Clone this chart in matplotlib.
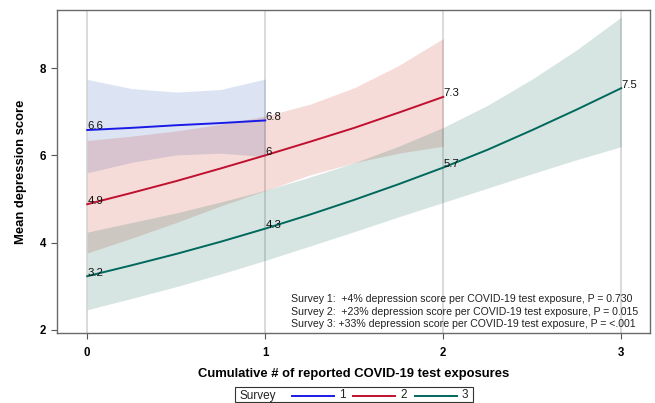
import matplotlib
matplotlib.use("Agg")
import matplotlib.pyplot as plt
from matplotlib.lines import Line2D
from matplotlib.patches import Rectangle

plt.rcParams['font.family'] = ['Liberation Sans', 'DejaVu Sans']

# ---- data ----
surveys = ["1", "2", "3"]

x1 = [0, 0.25, 0.5, 0.75, 1]
mean1 = [6.58, 6.63, 6.69, 6.74, 6.80]
upper1 = [7.74, 7.53, 7.45, 7.51, 7.75]
lower1 = [5.60, 5.84, 6.01, 6.05, 5.97]

x2 = [0, 0.25, 0.5, 0.75, 1, 1.25, 1.5, 1.75, 2]
mean2 = [4.88, 5.14, 5.41, 5.70, 6.00, 6.31, 6.63, 6.98, 7.34]
upper2 = [6.34, 6.44, 6.56, 6.71, 6.90, 7.17, 7.55, 8.06, 8.68]
lower2 = [3.76, 4.10, 4.46, 4.84, 5.19, 5.55, 5.83, 6.05, 6.21]

x3 = [0, 0.25, 0.5, 0.75, 1, 1.25, 1.5, 1.75, 2, 2.25, 2.5, 2.75, 3]
mean3 = [3.23, 3.48, 3.74, 4.02, 4.32, 4.64, 4.98, 5.34, 5.72, 6.13, 6.58, 7.05, 7.54]
upper3 = [4.24, 4.46, 4.68, 4.93, 5.20, 5.50, 5.83, 6.21, 6.64, 7.15, 7.75, 8.42, 9.17]
lower3 = [2.46, 2.72, 2.99, 3.28, 3.59, 3.92, 4.25, 4.59, 4.92, 5.25, 5.58, 5.90, 6.20]

label_x = [[0, 1], [0, 1, 2], [0, 1, 2, 3]]
label_y = [[6.58, 6.80], [4.88, 6.00, 7.34], [3.23, 4.32, 5.72, 7.54]]
label_txt = [["6.6", "6.8"], ["4.9", "6", "7.3"], ["3.2", "4.3", "5.7", "7.5"]]

annot_lines = [
    "Survey 1:  +4% depression score per COVID-19 test exposure, P = 0.730",
    "Survey 2:  +23% depression score per COVID-19 test exposure, P = 0.015",
    "Survey 3: +33% depression score per COVID-19 test exposure, P = <.001",
]

xticks = [0, 1, 2, 3]
yticks = [2, 4, 6, 8]

line_colors = ["#1a1ae6", "#c0102e", "#00685c"]
band_colors = ["#1a47b3", "#bc1600", "#005f4b"]
band_alpha = [0.15, 0.15, 0.16]

# ---- figure ----
fig = plt.figure(figsize=(6.55, 4.03), dpi=100)
ax = fig.add_axes([0.087, 0.174, 0.905, 0.801])

for xv in xticks:
    ax.axvline(xv, color="#d8d8d8", lw=1.3, zorder=0)

xs = [x1, x2, x3]
ms = [mean1, mean2, mean3]
us = [upper1, upper2, upper3]
ls = [lower1, lower2, lower3]
for i in range(3):
    ax.fill_between(xs[i], ls[i], us[i], color=band_colors[i],
                    alpha=band_alpha[i], lw=0, zorder=1)
for i in range(3):
    ax.plot(xs[i], ms[i], color=line_colors[i], lw=1.4, zorder=3)
    for lx, ly, lt in zip(label_x[i], label_y[i], label_txt[i]):
        ax.annotate(lt, (lx, ly), xytext=(0, -1), textcoords="offset points",
                    ha="left", va="bottom", fontsize=8.2, color="#111111", zorder=4)

ax.set_xlim(-0.17, 3.16)
ax.set_ylim(1.93, 9.33)
ax.set_xticks(xticks)
ax.set_yticks(yticks)
ax.set_xticklabels([str(t) for t in xticks], fontweight="bold", fontsize=8.3)
ax.set_yticklabels([str(t) for t in yticks], fontweight="bold", fontsize=8.3)
ax.tick_params(axis="both", direction="out", length=4, width=0.8, color="#555555")
ax.tick_params(axis="x", pad=6)
ax.tick_params(axis="y", pad=4)
for sp in ax.spines.values():
    sp.set_color("#6a6a6a")
    sp.set_linewidth(1.0)

ax.set_xlabel("Cumulative # of reported COVID-19 test exposures",
              fontweight="bold", fontsize=9.4, labelpad=7)
ax.set_ylabel("Mean depression score", fontweight="bold", fontsize=9.4, labelpad=9)

ax.text(0.394, 0.012, "\n".join(annot_lines), transform=ax.transAxes,
        ha="left", va="bottom", fontsize=7.6, linespacing=1.3, color="#222222")

# ---- legend (bottom, horizontal, boxed) ----
W, H = 655.0, 403.0
fig.patches.append(Rectangle((235 / W, 1 / H), (473 - 235) / W, 15 / H,
                             transform=fig.transFigure, fill=False,
                             edgecolor="#333333", lw=0.8))
ly_leg = (H - 395.5) / H
fig.text(240 / W, ly_leg, "Survey", ha="left", va="center",
         fontsize=8.5, color="#222222")
starts = [292, 353, 415]
for i, s in enumerate(surveys):
    fig.lines.append(Line2D([starts[i] / W, (starts[i] + 42) / W],
                            [ly_leg, ly_leg],
                            transform=fig.transFigure, color=line_colors[i], lw=1.4))
    fig.text((starts[i] + 47) / W, ly_leg, s, ha="left", va="center",
             fontsize=8.5, color="#222222")

fig.savefig("out.png", dpi=100)
